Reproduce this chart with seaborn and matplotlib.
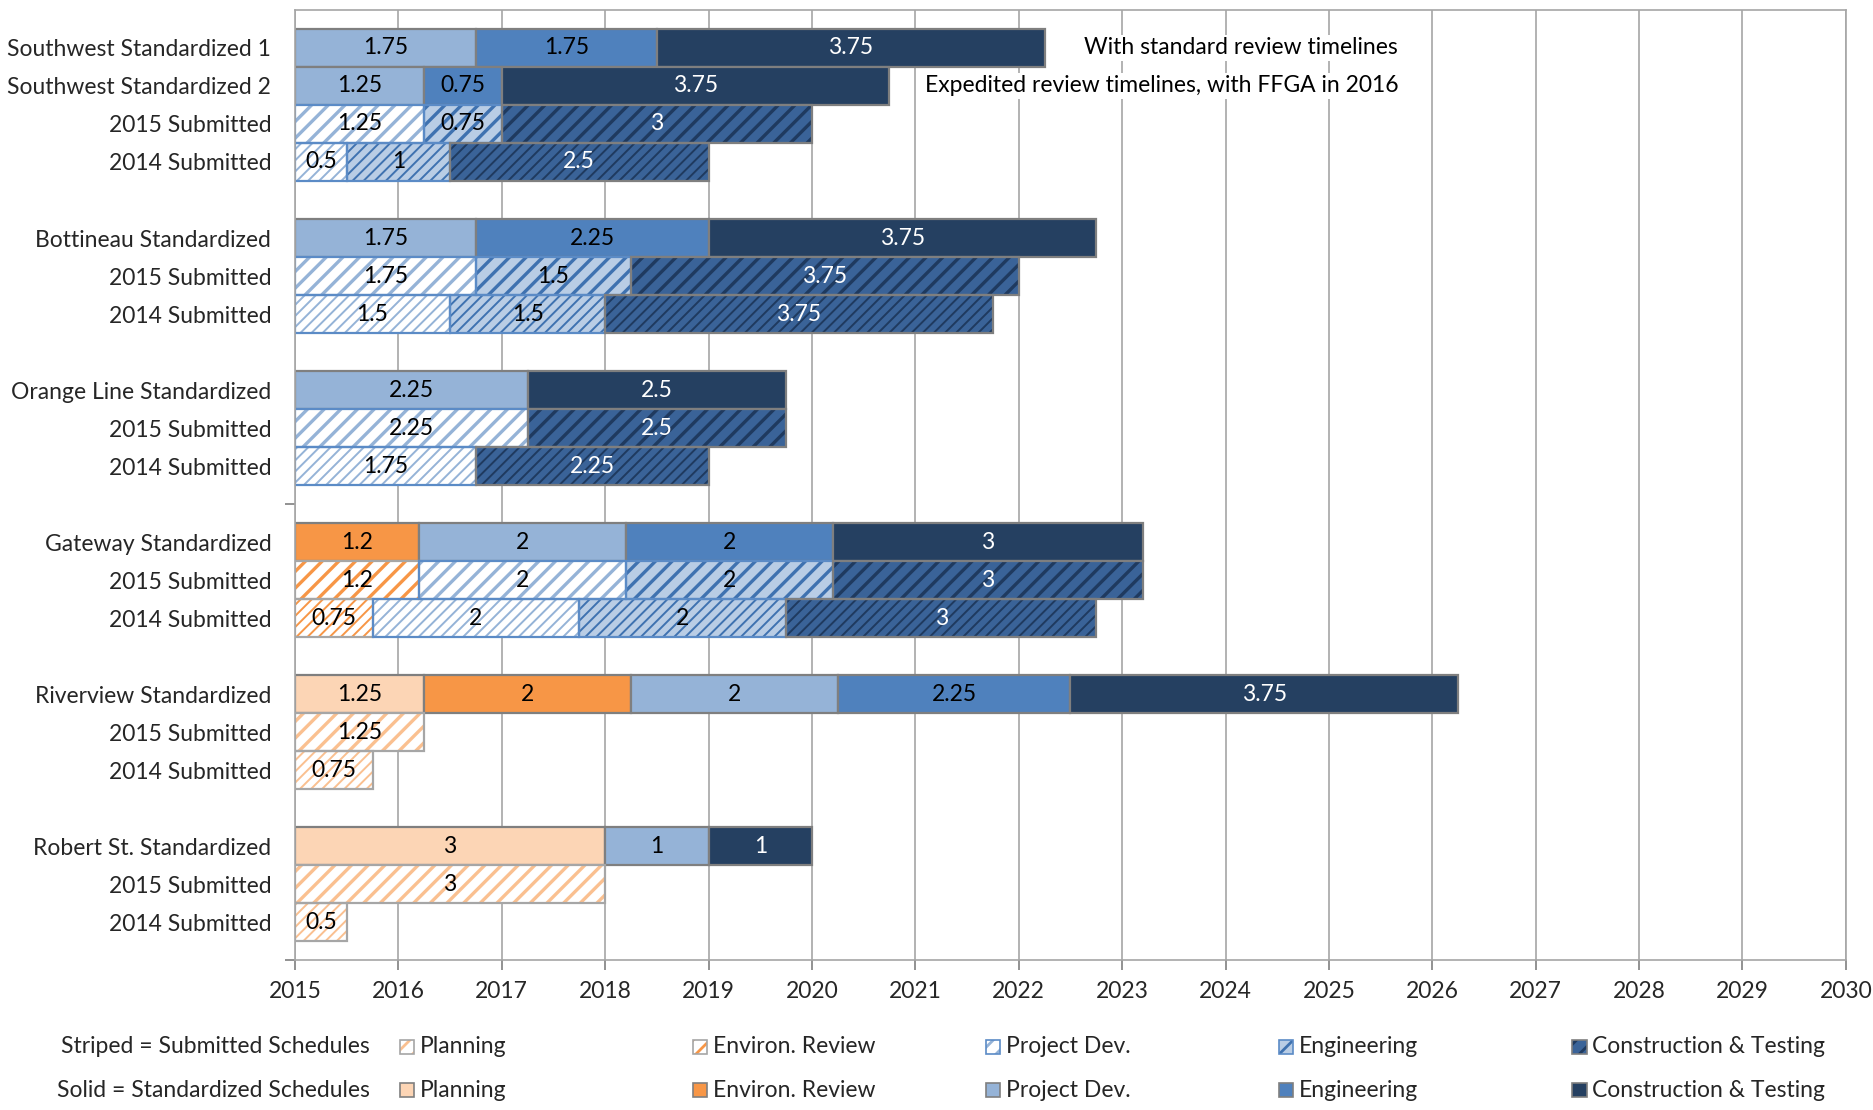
import matplotlib
matplotlib.use("Agg")
import matplotlib.pyplot as plt
from matplotlib.patches import Rectangle
import seaborn as sns
import pandas as pd

# 数据：每一行的标签和各阶段时长（年）
row_labels = [
    "Southwest Standardized 1", "Southwest Standardized 2", "2015 Submitted", "2014 Submitted", "",
    "Bottineau Standardized", "2015 Submitted", "2014 Submitted", "",
    "Orange Line Standardized", "2015 Submitted", "2014 Submitted", "",
    "Gateway Standardized", "2015 Submitted", "2014 Submitted", "",
    "Riverview Standardized", "2015 Submitted", "2014 Submitted", "",
    "Robert St. Standardized", "2015 Submitted", "2014 Submitted",
]
row_kinds = [
    "std", "std", "2015", "2014", "",
    "std", "2015", "2014", "",
    "std", "2015", "2014", "",
    "std", "2015", "2014", "",
    "std", "2015", "2014", "",
    "std", "2015", "2014",
]
phase_names = ["Planning", "Environ. Review", "Project Dev.", "Engineering", "Construction & Testing"]
planning = [0, 0, 0, 0, 0, 0, 0, 0, 0, 0, 0, 0, 0, 0, 0, 0, 0, 1.25, 1.25, 0.75, 0, 3, 3, 0.5]
environ_review = [0, 0, 0, 0, 0, 0, 0, 0, 0, 0, 0, 0, 0, 1.2, 1.2, 0.75, 0, 2, 0, 0, 0, 0, 0, 0]
project_dev = [1.75, 1.25, 1.25, 0.5, 0, 1.75, 1.75, 1.5, 0, 2.25, 2.25, 1.75, 0, 2, 2, 2, 0, 2, 0, 0, 0, 1, 0, 0]
engineering = [1.75, 0.75, 0.75, 1, 0, 2.25, 1.5, 1.5, 0, 0, 0, 0, 0, 2, 2, 2, 0, 2.25, 0, 0, 0, 0, 0, 0]
construction = [3.75, 3.75, 3, 2.5, 0, 3.75, 3.75, 3.75, 0, 2.5, 2.5, 2.25, 0, 3, 3, 3, 0, 3.75, 0, 0, 0, 1, 0, 0]
phase_values = [planning, environ_review, project_dev, engineering, construction]
start_year = 2015
year_ticks = list(range(2015, 2031))
note_labels = ["With standard review timelines", "Expedited review timelines, with FFGA in 2016"]

# 颜色
solid_colors = ["#FCD5B5", "#F79646", "#95B3D7", "#4F81BD", "#254061"]
hatch_bg = ["white", "white", "white", "#B9CDE5", "#3A6398"]
hatch_fg = ["#FAC090", "#F79646", "#95B3D7", "#3F72B0", "#1F3A5F"]
hatch_border = ["#A6A6A6", "#A6A6A6", "#5B8BC6", "#5B8BC6", "#7F7F7F"]
text_colors = ["black", "black", "black", "black", "white"]
hatch_style = {"2015": ("//", 2.4), "2014": ("///", 1.4)}
GRAY = "#7F7F7F"

sns.set_theme(style="white")
plt.rcParams["font.family"] = ["Lato", "DejaVu Sans"]
plt.rcParams["hatch.linewidth"] = 2.0
FS = 16.5

# 整理成长表
records = []
for i, label in enumerate(row_labels):
    start = start_year
    for p, vals in enumerate(phase_values):
        d = vals[i]
        if d == 0:
            continue
        records.append({"row": i + 1, "kind": row_kinds[i], "phase": p, "start": start, "dur": d})
        start += d
df = pd.DataFrame(records)

fig = plt.figure(figsize=(18.74, 11.10), dpi=100)
ax = fig.add_axes([0.1574, 0.1351, 0.8276, 0.8559])
ax.set_axisbelow(True)

for _, seg in df.iterrows():
    p = int(seg["phase"])
    kind = seg["kind"]
    face = solid_colors[p] if kind == "std" else hatch_bg[p]
    sns.barplot(x=[seg["dur"]], y=[seg["row"]], orient="y", native_scale=True, width=1,
                left=seg["start"], color=face, saturation=1, errorbar=None, ax=ax)
    bar = ax.containers[-1][0]
    if kind == "std":
        bar.set_facecolor(face)
        bar.set_edgecolor(GRAY)
        bar.set_linewidth(1.6)
    else:
        pattern, hlw = hatch_style[kind]
        bar.set_facecolor(face)
        bar.set_edgecolor(hatch_fg[p])
        bar.set_linewidth(0)
        bar.set_hatch(pattern)
        if hasattr(bar, "set_hatch_linewidth"):
            bar.set_hatch_linewidth(hlw)
        ax.add_patch(Rectangle(bar.get_xy(), bar.get_width(), bar.get_height(),
                               fill=False, edgecolor=hatch_border[p], linewidth=1.6, zorder=bar.get_zorder() + 0.1))
    ax.text(bar.get_x() + bar.get_width() / 2, bar.get_y() + bar.get_height() / 2,
            f"{seg['dur']:g}", ha="center", va="center", fontsize=FS, color=text_colors[p], zorder=5)

# 注释文字
for r, txt in enumerate(note_labels):
    ax.text(2025.67, r + 1, txt, ha="right", va="center", fontsize=FS, color="black", zorder=6,
            bbox=dict(facecolor="white", edgecolor="none", pad=2))

# 坐标轴
ax.set_xlim(2015, 2030)
ax.set_ylim(25, 0)
ax.set_xticks(year_ticks)
ax.set_xticklabels([str(y) for y in year_ticks], fontsize=FS)
lab_rows = [i + 1 for i, l in enumerate(row_labels) if l]
ax.set_yticks(lab_rows)
ax.set_yticklabels([l for l in row_labels if l], fontsize=FS)
ax.set_yticks(list(range(1, 26, 3)), minor=True)
ax.tick_params(axis="y", which="major", length=0, pad=17)
ax.tick_params(axis="y", which="minor", length=7, width=1.2, color=GRAY, direction="out", left=True)
ax.tick_params(axis="x", which="major", length=7, width=1.2, color=GRAY, direction="out", bottom=True, pad=8)
ax.set_xlabel("")
ax.set_ylabel("")
ax.grid(axis="x", color="#A6A6A6", linewidth=1.2)
ax.grid(axis="y", visible=False)
for s in ax.spines.values():
    s.set_color("#A6A6A6")
    s.set_linewidth(1.2)

# 图例（手工绘制两行）
leg_rows = [("Striped = Submitted Schedules", "sub", 0.0568), ("Solid = Standardized Schedules", "std", 0.0180)]
x0, dx = 0.2135, 0.1564
w, h = 0.0075, 0.0126
for title, kind, y in leg_rows:
    fig.text(0.1975, y, title, ha="right", va="center", fontsize=FS)
    for p, name in enumerate(phase_names):
        x = x0 + p * dx
        if kind == "std":
            fig.add_artist(Rectangle((x, y - h / 2), w, h, transform=fig.transFigure,
                                     facecolor=solid_colors[p], edgecolor=GRAY, linewidth=1.2))
        else:
            fig.add_artist(Rectangle((x, y - h / 2), w, h, transform=fig.transFigure,
                                     facecolor=hatch_bg[p], edgecolor=hatch_fg[p], linewidth=0, hatch="//"))
            fig.add_artist(Rectangle((x, y - h / 2), w, h, transform=fig.transFigure,
                                     fill=False, edgecolor=hatch_border[p], linewidth=1.2))
        fig.text(x + w + 0.003, y, name, ha="left", va="center", fontsize=FS)

fig.savefig("out.png", dpi=100, facecolor="white")
